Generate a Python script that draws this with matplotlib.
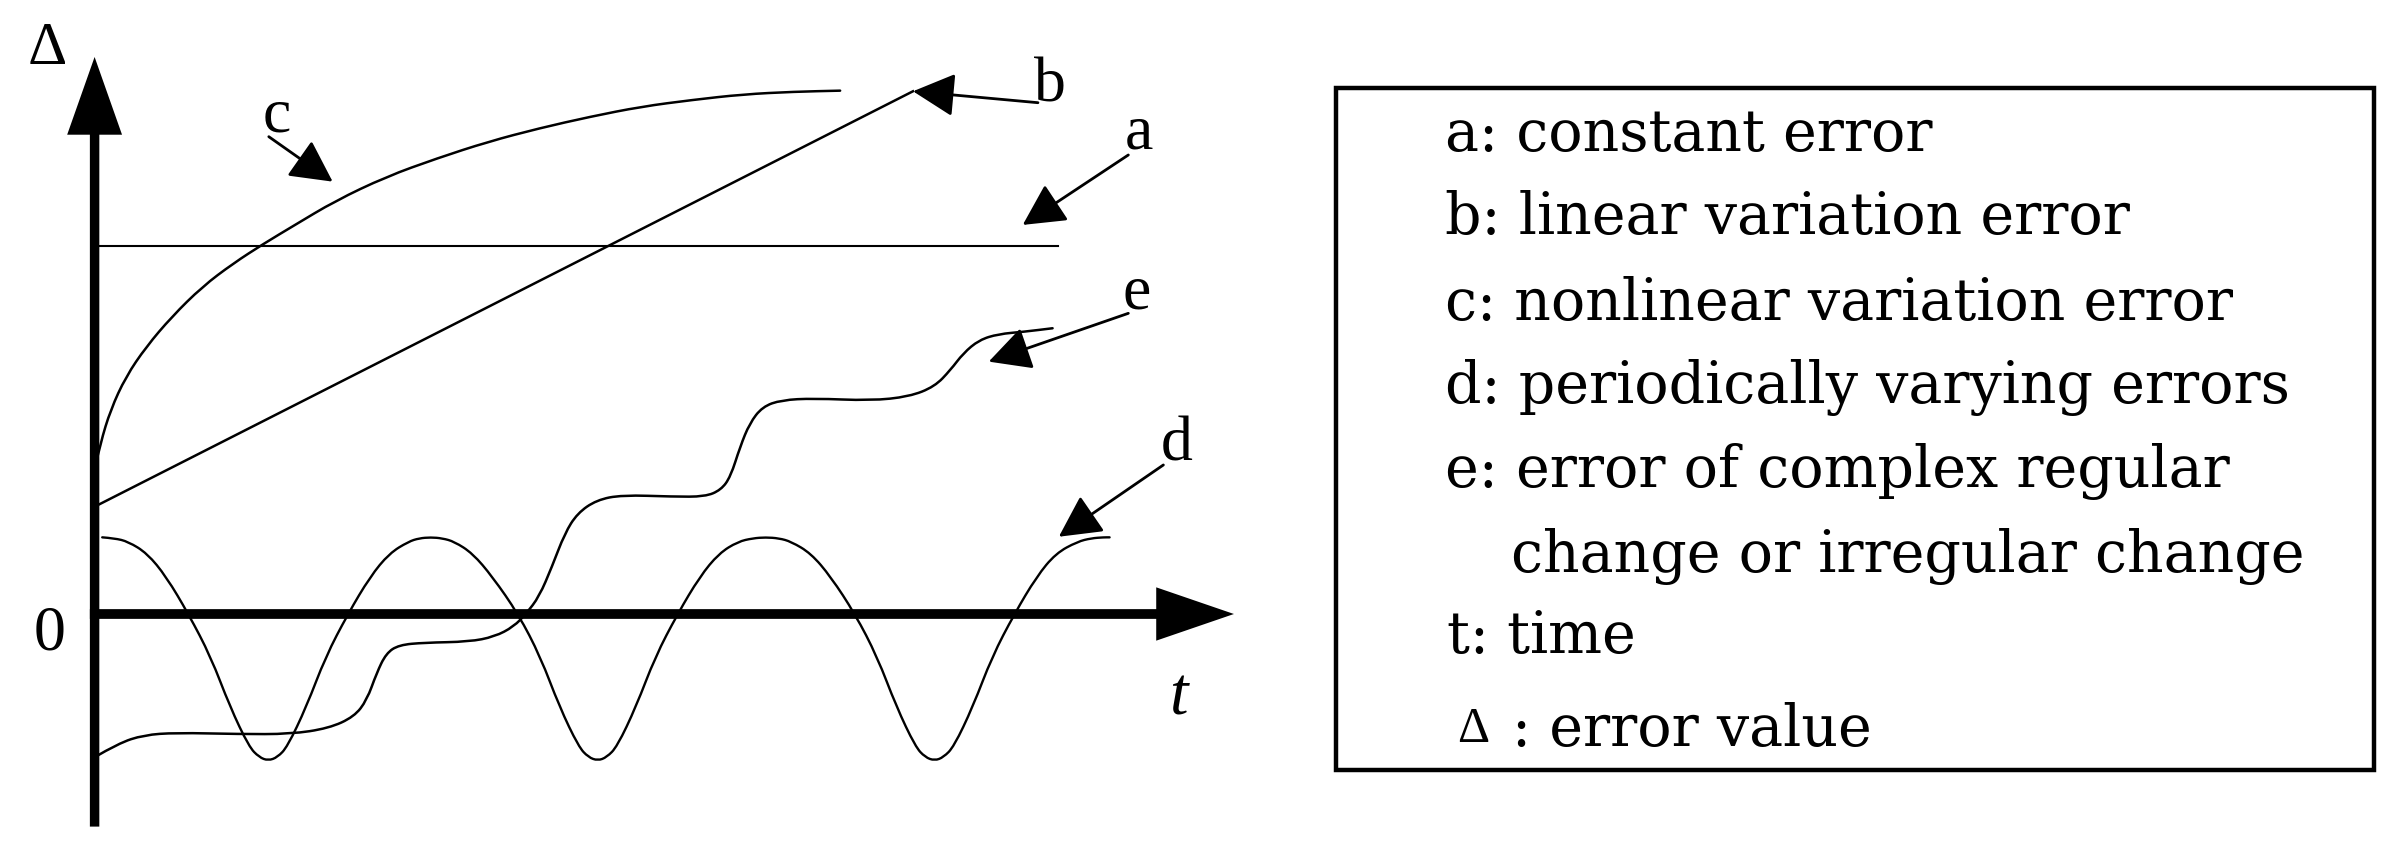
"""
Error types over time: schematic of constant, linear, nonlinear,
periodic and complex error curves, with a text key on the right.
"""

import matplotlib
matplotlib.use("Agg")
import matplotlib.pyplot as plt
from matplotlib.patches import Rectangle, PathPatch
from matplotlib.path import Path

# -------------------------------------------------
# Curve data (t, error value)
# -------------------------------------------------
a_t = [0.0, 6.32]
a_v = [2.417, 2.417]

b_t = [0.0, 5.37]
b_v = [0.704, 3.43]

c_t = [0.0, 0.038, 0.105, 0.205, 0.339, 0.507, 0.707, 0.909, 1.110, 1.310,
       1.578, 1.913, 2.247, 2.583, 2.917, 3.252, 3.587, 3.921, 4.256, 4.591, 4.892]
c_v = [0.95, 1.12, 1.34, 1.557, 1.754, 1.951, 2.148, 2.30, 2.43, 2.55,
       2.71, 2.869, 2.990, 3.099, 3.187, 3.263, 3.329, 3.373, 3.410, 3.427, 3.434]

d_t = [0.05, 0.13, 0.22, 0.345, 0.47, 0.616, 0.762, 0.888, 1.013, 1.08, 1.139,
       1.20, 1.265, 1.39, 1.516, 1.662, 1.808, 1.934, 2.06, 2.13, 2.206,
       2.28, 2.36, 2.48, 2.61, 2.78, 2.925, 3.05, 3.176, 3.24, 3.302,
       3.36, 3.428, 3.553, 3.679, 3.825, 3.971, 4.097, 4.222, 4.32, 4.403,
       4.49, 4.57, 4.70, 4.83, 4.99, 5.135, 5.261, 5.386, 5.45, 5.512,
       5.57, 5.638, 5.763, 5.889, 6.035, 6.181, 6.307, 6.45, 6.54, 6.62, 6.66]
d_v = [0.503, 0.497, 0.475, 0.398, 0.245, 0.0, -0.280, -0.608, -0.871, -0.94, -0.962,
       -0.94, -0.871, -0.608, -0.280, 0.0, 0.245, 0.398, 0.475, 0.497, 0.503,
       0.497, 0.475, 0.398, 0.245, 0.0, -0.280, -0.608, -0.871, -0.94, -0.962,
       -0.94, -0.871, -0.608, -0.280, 0.0, 0.245, 0.398, 0.475, 0.497, 0.503,
       0.497, 0.475, 0.398, 0.245, 0.0, -0.280, -0.608, -0.871, -0.94, -0.962,
       -0.94, -0.871, -0.608, -0.280, 0.0, 0.245, 0.398, 0.475, 0.497, 0.503, 0.503]

e_t = [0.0, 0.155, 0.323, 0.532, 0.950, 1.285, 1.536, 1.703, 1.787, 1.850,
       1.913, 1.997, 2.164, 2.457, 2.624, 2.750, 2.833, 2.917, 3.001, 3.085,
       3.168, 3.294, 3.461, 3.796, 4.005, 4.110, 4.173, 4.236, 4.298, 4.382,
       4.507, 4.717, 5.093, 5.344, 5.512, 5.616, 5.700, 5.804, 5.930, 6.098, 6.286]
e_v = [-0.94, -0.849, -0.794, -0.779, -0.788, -0.788, -0.750, -0.674, -0.564, -0.389,
       -0.258, -0.203, -0.188, -0.182, -0.149, -0.083, 0.004, 0.114, 0.310, 0.529,
       0.661, 0.748, 0.781, 0.770, 0.770, 0.814, 0.901, 1.098, 1.251, 1.360,
       1.404, 1.415, 1.400, 1.426, 1.492, 1.601, 1.711, 1.798, 1.837, 1.852, 1.875]

# curve labels: (letter, label position, arrow tail, arrow tip)
label_names = ["c", "b", "a", "e", "d"]
label_pos = [(1.193, 3.163), (6.27, 3.36), (6.85, 3.056), (6.84, 2.006), (7.10, 1.010)]
arrow_tail = [(1.143, 3.132), (6.19, 3.355), (6.783, 3.012), (6.783, 1.973), (7.013, 0.978)]
arrow_tip = [(1.562, 2.837), (5.37, 3.43), (6.09, 2.553), (5.867, 1.656), (6.327, 0.507)]

legend_lines = [
    "a: constant error",
    "b: linear variation error",
    "c: nonlinear variation error",
    "d: periodically varying errors",
    "e: error of complex regular",
    "change or irregular change",
    "t: time",
    ": error value",
]


def smooth_curve(ax, xs, ys, **kw):
    # quadratic Bezier through the midpoints, read points act as control points
    verts = [(xs[0], ys[0])]
    codes = [Path.MOVETO]
    for i in range(1, len(xs) - 1):
        mid = ((xs[i] + xs[i + 1]) / 2, (ys[i] + ys[i + 1]) / 2)
        verts += [(xs[i], ys[i]), mid]
        codes += [Path.CURVE3, Path.CURVE3]
    verts.append((xs[-1], ys[-1]))
    codes.append(Path.LINETO)
    ax.add_patch(PathPatch(Path(verts, codes), fill=False, capstyle="round",
                           joinstyle="round", **kw))


# -------------------------------------------------
# Figure (2390 x 848 px)
# -------------------------------------------------
W, H = 2390, 848
fig = plt.figure(figsize=(W / 100, H / 100), dpi=100)

# left diagram: 1 data unit = 152.4 px, origin at px (94.6, 614)
unit = 152.4
ax = fig.add_axes([0, 0, 1300 / W, 1])
ax.set_xlim(-94.6 / unit, (1300 - 94.6) / unit)
ax.set_ylim(-(H - 614) / unit, 614 / unit)
ax.axis("off")

serif = "Liberation Serif"

# axes with arrow heads
ax.arrow(-0.031, 0, 7.476 + 0.031, 0, width=0.064, head_width=0.35,
         head_length=0.51, length_includes_head=True, color="k", lw=0)
ax.arrow(0, -1.395, 0, 3.655 + 1.395, width=0.062, head_width=0.36,
         head_length=0.51, length_includes_head=True, color="k", lw=0)

# curves
ax.plot(a_t, a_v, color="k", lw=1.5)
ax.plot(b_t, b_v, color="k", lw=1.8)
smooth_curve(ax, c_t, c_v, color="k", lw=1.8)
smooth_curve(ax, d_t, d_v, color="k", lw=1.7)
smooth_curve(ax, e_t, e_v, color="k", lw=1.8)

# pointer arrows and letters
for name, pos, tail, tip in zip(label_names, label_pos, arrow_tail, arrow_tip):
    ax.annotate("", xy=tip, xytext=tail,
                arrowprops=dict(arrowstyle="-|>,head_length=2.6,head_width=1.35",
                                mutation_scale=10, lw=2.0, color="k",
                                shrinkA=0, shrinkB=0))
    ax.text(pos[0], pos[1], name, family=serif, fontsize=46,
            ha="center", va="baseline")

ax.text(-0.293, -0.236, "0", family=serif, fontsize=46, ha="center", va="baseline")
ax.text(7.11, -0.66, "t", family=serif, fontsize=48, style="italic",
        ha="center", va="baseline")
ax.text(-0.31, 3.609, "\u0394", family=serif, fontsize=44, ha="center", va="baseline")

# -------------------------------------------------
# Key box on the right
# -------------------------------------------------
def fx(x):
    return x / W


def fy(y):
    return 1 - y / H


fig.add_artist(Rectangle((fx(1336), fy(770)), fx(2374) - fx(1336), fy(88) - fy(770),
                         transform=fig.transFigure, fill=False, lw=3.2, color="k"))

line_x = [1445, 1445, 1445, 1445, 1445, 1511, 1447, 1512]
line_y = [151, 234, 320, 403, 487, 572, 653, 746]
for txt, x, y in zip(legend_lines, line_x, line_y):
    fig.text(fx(x), fy(y), txt, family="DejaVu Serif", fontsize=41,
             ha="left", va="baseline")
fig.text(fx(1457), fy(742), "\u0394", family=serif, fontsize=36,
         ha="left", va="baseline")

fig.savefig("out.png", dpi=100)
plt.close(fig)
